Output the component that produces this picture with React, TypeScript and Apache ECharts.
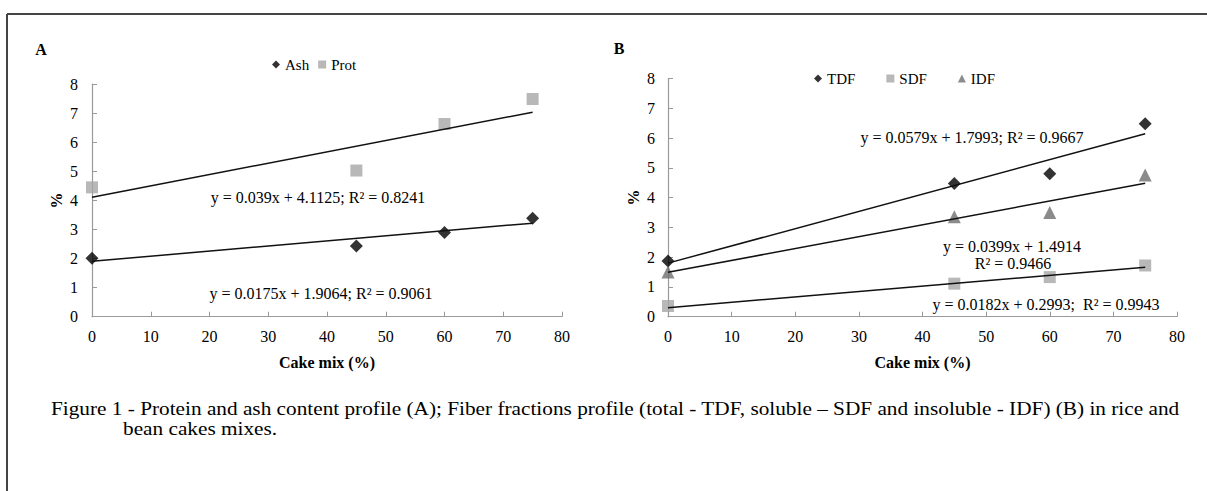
import React, { useEffect, useRef } from "react";
import * as echarts from "echarts";

// ---- Data ----
const cakeMix = [0, 45, 60, 75];
const ashValues = [2.01, 2.43, 2.9, 3.39];
const protValues = [4.45, 5.03, 6.63, 7.49];
const tdfValues = [1.87, 4.47, 4.8, 6.48];
const sdfValues = [0.36, 1.11, 1.33, 1.72];
const idfValues = [1.5, 3.36, 3.5, 4.76];

// trend line coefficients (from the equations printed on the chart)
const ashFit = [0.0175, 1.9064];
const protFit = [0.039, 4.1125];
const tdfFit = [0.0579, 1.7993];
const sdfFit = [0.0182, 0.2993];
const idfFit = [0.0399, 1.4914];
const fitRange = [0, 75];

const legendA = ["Ash", "Prot"];
const legendB = ["TDF", "SDF", "IDF"];

const eqProt = "y = 0.039x + 4.1125; R\u00b2 = 0.8241";
const eqAsh = "y = 0.0175x + 1.9064; R\u00b2 = 0.9061";
const eqTdf = "y = 0.0579x + 1.7993; R\u00b2 = 0.9667";
const eqIdf1 = "y = 0.0399x + 1.4914";
const eqIdf2 = "R\u00b2 = 0.9466";
const eqSdf = "y = 0.0182x + 0.2993;  R\u00b2 = 0.9943";
const caption1 =
  "Figure 1 - Protein and ash content profile (A); Fiber fractions profile (total - TDF, soluble \u2013 SDF and insoluble - IDF) (B) in rice and";
const caption2 = "bean cakes mixes.";

const FONT = '"Liberation Serif", "Times New Roman", serif';

const pts = (vals: number[]) => cakeMix.map((x, i) => [x, vals[i]]);
const fit = (c: number[]) => fitRange.map((x) => [x, c[0] * x + c[1]]);

export default function App() {
  const ref = useRef<HTMLDivElement>(null);
  useEffect(() => {
    if (!ref.current) return;
    const chart = echarts.init(ref.current, null, { renderer: "svg" });

    const axisCommon = {
      axisLine: { show: true, lineStyle: { color: "#9a9a9a", width: 1.2 } },
      axisTick: { show: true, inside: true, length: 5, lineStyle: { color: "#9a9a9a" } },
      splitLine: { show: false },
    };
    const labelStyle = { color: "#000", fontFamily: FONT, fontSize: 16 };
    const nameStyle = { color: "#000", fontFamily: FONT, fontSize: 16, fontWeight: "bold" };
    const xAxis = (gi: number) => ({
      ...axisCommon,
      type: "value",
      gridIndex: gi,
      min: 0,
      max: 80,
      interval: 10,
      axisLabel: { ...labelStyle, margin: 12 },
      name: "Cake mix (%)",
      nameLocation: "middle",
      nameGap: 38,
      nameTextStyle: nameStyle,
    });
    const yAxis = (gi: number, margin: number, gap: number) => ({
      ...axisCommon,
      type: "value",
      gridIndex: gi,
      min: 0,
      max: 8,
      interval: 1,
      axisLabel: { ...labelStyle, margin },
      name: "%",
      nameLocation: "middle",
      nameRotate: 90,
      nameGap: gap,
      nameTextStyle: nameStyle,
    });

    const scatter = (name: string, vals: number[], gi: number, symbol: string, size: number, color: string) => ({
      name,
      type: "scatter",
      xAxisIndex: gi,
      yAxisIndex: gi,
      data: pts(vals),
      symbol,
      symbolSize: size,
      itemStyle: { color },
      z: 3,
    });
    const trend = (name: string, c: number[], gi: number) => ({
      name,
      type: "line",
      xAxisIndex: gi,
      yAxisIndex: gi,
      data: fit(c),
      showSymbol: false,
      symbol: "none",
      lineStyle: { color: "#111", width: 1.5 },
      z: 4,
      silent: true,
    });

    const txt = (text: string, x: number, y: number, extra: any = {}, scaleX = 1) => ({
      type: "text",
      x,
      y,
      scaleX,
      style: {
        text,
        fill: "#000",
        fontFamily: FONT,
        fontSize: 16,
        align: "center",
        verticalAlign: "middle",
        ...extra,
      },
    });

    const legendText = { color: "#000", fontFamily: FONT, fontSize: 15 };

    chart.setOption({
      animation: false,
      backgroundColor: "#fff",
      grid: [
        { left: 92, top: 84.2, width: 470, height: 232.5 },
        { left: 668, top: 78.5, width: 509, height: 238.2 },
      ],
      xAxis: [xAxis(0), xAxis(1)],
      yAxis: [yAxis(0, 14, 28), yAxis(1, 13, 27)],
      legend: [
        {
          data: legendA.map((n, i) => ({ name: n, icon: i === 0 ? "diamond" : "rect" })),
          left: 272,
          top: 57,
          padding: 0,
          itemWidth: 8,
          itemHeight: 8,
          itemGap: 9,
          textStyle: legendText,
          selectedMode: false,
        },
        {
          data: legendB.map((n, i) => ({ name: n, icon: ["diamond", "rect", "triangle"][i] })),
          left: 814,
          top: 71,
          padding: 0,
          itemWidth: 8,
          itemHeight: 8,
          itemGap: 31,
          textStyle: legendText,
          selectedMode: false,
        },
      ],
      series: [
        scatter("Ash", ashValues, 0, "diamond", 13, "#000"),
        scatter("Prot", protValues, 0, "rect", 12, "#a6a6a6"),
        trend("Ash fit", ashFit, 0),
        trend("Prot fit", protFit, 0),
        scatter("TDF", tdfValues, 1, "diamond", 13, "#000"),
        scatter("SDF", sdfValues, 1, "rect", 12, "#a6a6a6"),
        scatter("IDF", idfValues, 1, "triangle", 13, "#6e6e6e"),
        trend("TDF fit", tdfFit, 1),
        trend("SDF fit", sdfFit, 1),
        trend("IDF fit", idfFit, 1),
      ],
      graphic: [
        { type: "line", shape: { x1: 7, y1: 14, x2: 1207, y2: 14 }, style: { stroke: "#444", lineWidth: 2 } },
        { type: "line", shape: { x1: 7, y1: 14, x2: 7, y2: 491 }, style: { stroke: "#444", lineWidth: 2 } },
        txt("A", 41, 49, { fontWeight: "bold", fontSize: 16 }),
        txt("B", 619, 48, { fontWeight: "bold", fontSize: 16 }),
        txt(eqProt, 318, 197),
        txt(eqAsh, 321, 293),
        txt(eqTdf, 972, 137),
        txt(eqIdf1, 1012, 246),
        txt(eqIdf2, 1013, 263),
        txt(eqSdf, 1046, 304),
        txt(caption1, 51, 408, { align: "left", fontSize: 19 }, 1.12),
        txt(caption2, 123, 428, { align: "left", fontSize: 19 }, 1.12),
      ],
    });
    return () => chart.dispose();
  }, []);
  return (
    <div
      ref={ref}
      style={{ position: "absolute", left: 0, top: 0, width: 1207, height: 491, background: "#fff" }}
    />
  );
}
